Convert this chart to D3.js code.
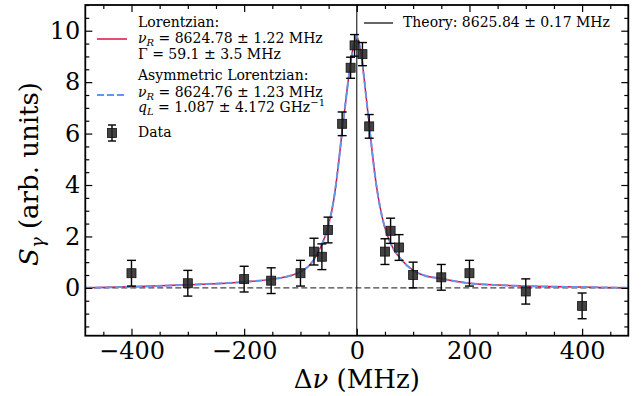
<!DOCTYPE html>
<html>
<head>
<meta charset="utf-8">
<script src="https://cdn.jsdelivr.net/npm/d3@7"></script>
<style>
  body { margin: 0; background: #fff; }
  svg { display: block; font-family: "DejaVu Serif", serif; }
</style>
</head>
<body>
<svg width="642" height="396"></svg>
<script>
// measured points (detuning in MHz, signal, error)
let dataX = [-400, -300, -200, -152, -100, -76, -62, -51, -26, -11, -4, 10, 22, 50, 60, 75, 100, 150, 200, 300, 400]
let dataY = [0.57, 0.18, 0.34, 0.28, 0.57, 1.41, 1.21, 2.25, 6.38, 8.56, 9.43, 9.09, 6.28, 1.41, 2.22, 1.57, 0.5, 0.41, 0.57, -0.14, -0.7]
let dataErr = [0.5, 0.5, 0.5, 0.5, 0.5, 0.52, 0.5, 0.5, 0.46, 0.41, 0.42, 0.45, 0.46, 0.5, 0.49, 0.5, 0.5, 0.5, 0.5, 0.49, 0.5]

// fit curves
let fitX = [-482, -400, -300, -200, -150, -120, -100, -80, -65, -50, -40, -30, -25, -20, -15, -10, -5, -1, 3, 8, 13, 18, 23, 28, 35, 45, 55, 65, 77, 100, 120, 150, 200, 300, 400, 482]
let lorentzY = [0.0, 0.04, 0.12, 0.23, 0.34, 0.46, 0.62, 0.98, 1.55, 2.45, 3.55, 5.3, 6.3, 7.2, 8.1, 8.9, 9.5, 9.8, 9.6, 9.05, 8.15, 7.15, 6.15, 5.15, 3.95, 2.75, 2.0, 1.52, 1.15, 0.68, 0.48, 0.36, 0.18, 0.07, 0.03, 0.0]
let asymY = [0.0, 0.04, 0.12, 0.23, 0.34, 0.46, 0.62, 0.98, 1.55, 2.45, 3.55, 5.3, 6.3, 7.2, 8.1, 8.9, 9.5, 9.79, 9.6, 9.05, 8.15, 7.15, 6.15, 5.15, 3.95, 2.75, 2.0, 1.52, 1.15, 0.68, 0.48, 0.36, 0.18, 0.07, 0.03, 0.0]

let xMajor = [-400, -200, 0, 200, 400]
let yMajor = [0, 2, 4, 6, 8, 10]

let svg = d3.select('svg')
let pLeft = 85.3, pRight = 628.3, pTop = 5, pBottom = 335.7

let x = d3.scaleLinear().domain([-482, 482]).range([pLeft, pRight])
let y = d3.scaleLinear().domain([-1.86, 11]).range([pBottom, pTop])

let xMinor = d3.range(-450, 451, 50).filter(v => !xMajor.includes(v))
let yMinor = d3.range(-1.5, 11.01, 0.5).filter(v => !yMajor.includes(v))

// zero line and theory line
svg.append('line')
    .attr('x1', pLeft).attr('x2', pRight)
    .attr('y1', y(0)).attr('y2', y(0))
    .attr('stroke', '#444').attr('stroke-width', 1.3)
    .attr('stroke-dasharray', '6,3')

svg.append('line')
    .attr('x1', x(0)).attr('x2', x(0))
    .attr('y1', pTop).attr('y2', pBottom)
    .attr('stroke', '#000').attr('stroke-width', 1)

// fit curves
let lorentz = d3.line()
    .x((d, i) => x(fitX[i]))
    .y(d => y(d))
    .curve(d3.curveMonotoneX)

svg.append('path')
    .attr('d', lorentz(lorentzY))
    .attr('fill', 'none')
    .attr('stroke', '#dc143c')
    .attr('stroke-width', 1.5)

svg.append('path')
    .attr('d', lorentz(asymY))
    .attr('fill', 'none')
    .attr('stroke', '#6495ed')
    .attr('stroke-width', 2)
    .attr('stroke-dasharray', '7,3')

// data with error bars
let pts = svg.append('g')
dataX.forEach((xv, i) => {
    let cx = x(xv)
    let g = pts.append('g').attr('stroke', '#000').attr('stroke-width', 1.4)
    g.append('line').attr('x1', cx).attr('x2', cx)
        .attr('y1', y(dataY[i] - dataErr[i])).attr('y2', y(dataY[i] + dataErr[i]))
    g.append('line').attr('x1', cx - 4.5).attr('x2', cx + 4.5)
        .attr('y1', y(dataY[i] - dataErr[i])).attr('y2', y(dataY[i] - dataErr[i]))
    g.append('line').attr('x1', cx - 4.5).attr('x2', cx + 4.5)
        .attr('y1', y(dataY[i] + dataErr[i])).attr('y2', y(dataY[i] + dataErr[i]))
    pts.append('rect')
        .attr('x', cx - 4.5).attr('y', y(dataY[i]) - 4.5)
        .attr('width', 9).attr('height', 9)
        .attr('fill', '#222').attr('fill-opacity', 0.85)
        .attr('stroke', '#111').attr('stroke-width', 0.8)
})

// axes, ticks inward on all four sides
let axisStyle = g => {
    g.select('.domain').remove()
    g.selectAll('.tick line').attr('stroke', '#000').attr('stroke-width', 1.2)
    g.selectAll('.tick text').attr('font-size', 24).attr('font-family', 'DejaVu Serif').attr('fill', '#000')
}

svg.append('g').attr('transform', `translate(0,${pBottom})`)
    .call(d3.axisBottom(x).tickValues(xMajor).tickSize(-7).tickPadding(6))
    .call(axisStyle)
svg.append('g').attr('transform', `translate(0,${pBottom})`)
    .call(d3.axisBottom(x).tickValues(xMinor).tickSize(-4).tickFormat(''))
    .call(axisStyle)
svg.append('g').attr('transform', `translate(0,${pTop})`)
    .call(d3.axisTop(x).tickValues(xMajor).tickSize(-7).tickFormat(''))
    .call(axisStyle)
svg.append('g').attr('transform', `translate(0,${pTop})`)
    .call(d3.axisTop(x).tickValues(xMinor).tickSize(-4).tickFormat(''))
    .call(axisStyle)

svg.append('g').attr('transform', `translate(${pLeft},0)`)
    .call(d3.axisLeft(y).tickValues(yMajor).tickSize(-7).tickPadding(5))
    .call(axisStyle)
svg.append('g').attr('transform', `translate(${pLeft},0)`)
    .call(d3.axisLeft(y).tickValues(yMinor).tickSize(-4).tickFormat(''))
    .call(axisStyle)
svg.append('g').attr('transform', `translate(${pRight},0)`)
    .call(d3.axisRight(y).tickValues(yMajor).tickSize(-7).tickFormat(''))
    .call(axisStyle)
svg.append('g').attr('transform', `translate(${pRight},0)`)
    .call(d3.axisRight(y).tickValues(yMinor).tickSize(-4).tickFormat(''))
    .call(axisStyle)

svg.append('rect')
    .attr('x', pLeft).attr('y', pTop)
    .attr('width', pRight - pLeft).attr('height', pBottom - pTop)
    .attr('fill', 'none').attr('stroke', '#000').attr('stroke-width', 1.8)

// axis labels
let xl = svg.append('text')
    .attr('x', (pLeft + pRight) / 2).attr('y', 388)
    .attr('text-anchor', 'middle').attr('font-size', 26)
xl.append('tspan').text('Δ')
xl.append('tspan').attr('font-style', 'italic').text('ν')
xl.append('tspan').text(' (MHz)')

let yl = svg.append('text')
    .attr('transform', 'translate(38,174) rotate(-90)')
    .attr('text-anchor', 'middle').attr('font-size', 26)
yl.append('tspan').attr('font-style', 'italic').text('S')
yl.append('tspan').attr('font-style', 'italic').attr('font-size', 18).attr('dy', 6).text('γ')
yl.append('tspan').attr('dy', -6).text(' (arb. units)')

// legend, left block
let lg = svg.append('g').attr('font-size', 14).attr('fill', '#000')
let tx = 138
let addLine = (yy, parts) => {
    let t = lg.append('text').attr('x', tx).attr('y', yy)
    parts.forEach(p => {
        let s = t.append('tspan').text(p.t)
        if (p.i) s.attr('font-style', 'italic')
        if (p.sub) s.attr('font-size', 10).attr('dy', 3)
        if (p.sup) s.attr('font-size', 10).attr('dy', -6)
        if (p.back) s.attr('dy', p.back)
    })
}
addLine(27.3, [{t: 'Lorentzian:'}])
addLine(43.3, [{t: 'ν', i: 1}, {t: 'R', i: 1, sub: 1}, {t: ' = 8624.78 ± 1.22 MHz', back: -3}])
addLine(58.8, [{t: 'Γ = 59.1 ± 3.5 MHz'}])
addLine(80, [{t: 'Asymmetric Lorentzian:'}])
addLine(96.5, [{t: 'ν', i: 1}, {t: 'R', i: 1, sub: 1}, {t: ' = 8624.76 ± 1.23 MHz', back: -3}])
addLine(112, [{t: 'q', i: 1}, {t: 'L', i: 1, sub: 1}, {t: ' = 1.087 ± 4.172 GHz', back: -3}, {t: '−1', sup: 1}])
addLine(137.3, [{t: 'Data'}])

lg.append('line').attr('x1', 97).attr('x2', 127).attr('y1', 39).attr('y2', 39)
    .attr('stroke', '#dc143c').attr('stroke-width', 1.5)
lg.append('line').attr('x1', 97).attr('x2', 127).attr('y1', 95).attr('y2', 95)
    .attr('stroke', '#6495ed').attr('stroke-width', 2).attr('stroke-dasharray', '7,3')

let lmx = 112, lmy = 133
let lm = lg.append('g').attr('stroke', '#000').attr('stroke-width', 1.4)
lm.append('line').attr('x1', lmx).attr('x2', lmx).attr('y1', lmy - 8).attr('y2', lmy + 8)
lm.append('line').attr('x1', lmx - 4).attr('x2', lmx + 4).attr('y1', lmy - 8).attr('y2', lmy - 8)
lm.append('line').attr('x1', lmx - 4).attr('x2', lmx + 4).attr('y1', lmy + 8).attr('y2', lmy + 8)
lg.append('rect').attr('x', lmx - 4.5).attr('y', lmy - 4.5).attr('width', 9).attr('height', 9)
    .attr('fill', '#222').attr('fill-opacity', 0.85).attr('stroke', '#111').attr('stroke-width', 0.8)

// legend, theory
lg.append('line').attr('x1', 364).attr('x2', 393).attr('y1', 23).attr('y2', 23)
    .attr('stroke', '#000').attr('stroke-width', 1.2)
lg.append('text').attr('x', 403).attr('y', 27).text('Theory: 8625.84 ± 0.17 MHz')
</script>
</body>
</html>
